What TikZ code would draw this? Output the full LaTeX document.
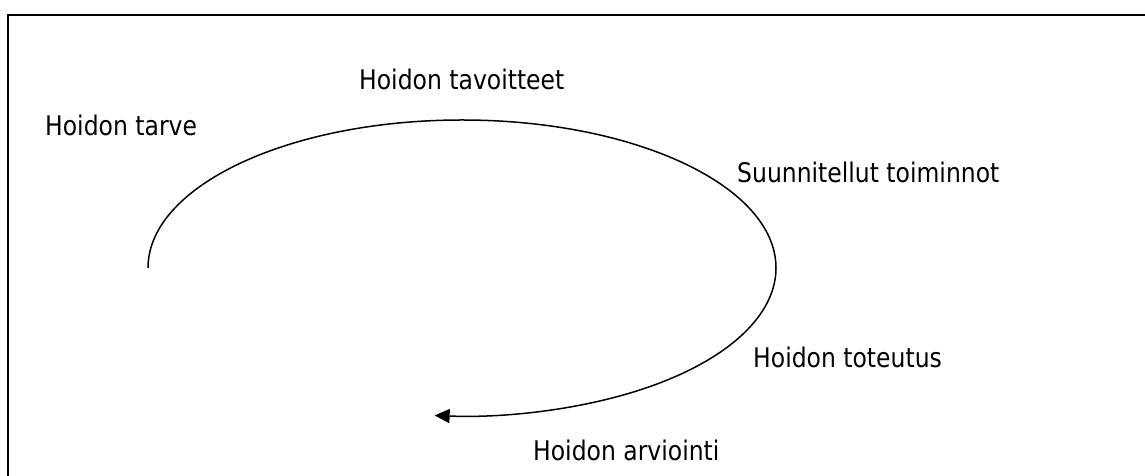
\documentclass[tikz,border=0pt]{standalone}
\usepackage{fontspec}
\setmainfont{DejaVu Sans}[FakeStretch=0.87]
\usetikzlibrary{arrows.meta}
\tikzset{
  lbl/.style={anchor=base west, inner sep=0pt, font=\fontsize{27}{32}\selectfont},
  frameline/.style={line width=2pt},
  cycle/.style={line width=1.5pt, -{Triangle[length=15pt,width=14pt]}}
}
\begin{document}
\begin{tikzpicture}[x=1pt,y=1pt]
\useasboundingbox (0,0) rectangle (1145,476);
% frame (cropped at right and bottom)
\coordinate (fb) at (8,0);
\coordinate (ftl) at (8,461);
\coordinate (fr) at (1145,461);
\draw[frameline] (fb) -- (ftl) -- (fr);
% labels
\node[lbl] (tarve) at (45,340) {Hoidon tarve};
\node[lbl] (tavoitteet) at (359,386) {Hoidon tavoitteet};
\node[lbl] (suunn) at (737,293) {Suunnitellut toiminnot};
\node[lbl] (toteutus) at (753,108) {Hoidon toteutus};
\node[lbl] (arviointi) at (533,15) {Hoidon arviointi};
% cycle curve
\coordinate (cstart) at (148,208);
\draw[cycle] (cstart) arc[start angle=180, end angle=-95, x radius=314, y radius=148];
\end{tikzpicture}
\end{document}
